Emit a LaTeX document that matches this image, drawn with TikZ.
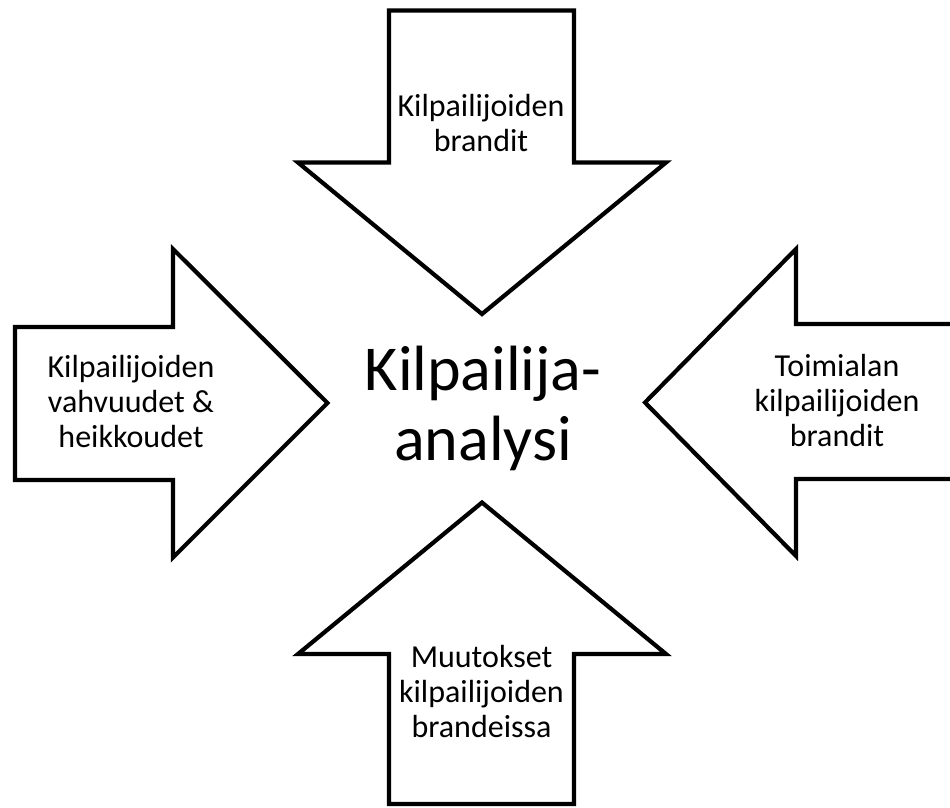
\documentclass[tikz,border=0pt]{standalone}
\usepackage{fontspec}
\setmainfont{Carlito}
\begin{document}
\begin{tikzpicture}[x=1pt,y=-1pt,
  blockarrow/.style={draw=black,fill=white,line width=4.2pt,line join=miter,miter limit=10},
  label/.style={align=center,anchor=base,inner sep=0pt,font=\fontsize{32}{35}\selectfont},
  title/.style={align=center,anchor=base,inner sep=0pt,font=\fontsize{64}{70}\selectfont}]
\useasboundingbox (0,0) rectangle (950,807);
\clip (0,0) rectangle (950,807);
\fill[white] (0,0) rectangle (950,807);

% arrow from above
\path[blockarrow] (389,10.5) -- (574,10.5) -- (574,162.5) -- (666,162.5) -- (482,314)
  -- (298,162.5) -- (389,162.5) -- cycle;
% arrow from below
\path[blockarrow] (389,804) -- (574,804) -- (574,654) -- (666,654) -- (482,502.5)
  -- (298,654) -- (389,654) -- cycle;
% arrow from the left
\path[blockarrow] (15,327) -- (173,327) -- (173,249) -- (327.5,403) -- (173,557.5)
  -- (173,480) -- (15,480) -- cycle;
% arrow from the right, running off the edge
\path[blockarrow] (970,324) -- (796,324) -- (796,249) -- (645,402.5) -- (796,556)
  -- (796,479) -- (970,479) -- cycle;

% multi-line labels are placed by the baseline of their last line
\node[label] (top) at (481,151) {Kilpailijoiden\\brandit};
\node[label] (left) at (131,447) {Kilpailijoiden\\vahvuudet \&\\heikkoudet};
\node[label] (right) at (837,446) {Toimialan\\kilpailijoiden\\brandit};
\node[label] (bottom) at (481.5,737) {Muutokset\\kilpailijoiden\\brandeissa};
\node[title] (centre) at (483,460) {Kilpailija-\\analysi};
\end{tikzpicture}
\end{document}
